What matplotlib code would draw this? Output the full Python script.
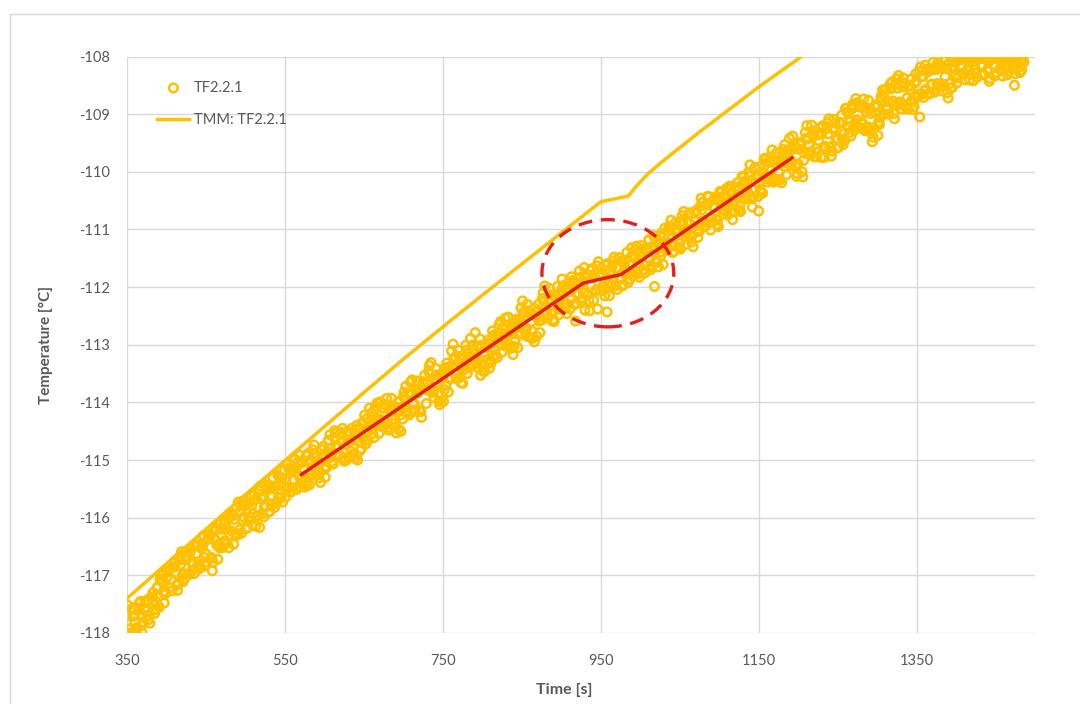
import numpy as np
import matplotlib
matplotlib.use('Agg')
import matplotlib.pyplot as plt
from matplotlib.patches import Ellipse, Rectangle

plt.rcParams['font.family'] = ['Lato', 'DejaVu Sans']
plt.rcParams['axes.unicode_minus'] = False

# measured thermocouple TF2.2.1, logged every second; stored as four
# interleaved channels (t = 350+4k, 351+4k, 352+4k, 353+4k)
t_meas_a = np.arange(350, 1487, 4)
T_meas_a = [
    -117.70, -117.93, -117.71, -117.91, -117.57, -117.70, -117.46, -117.69, -117.48, -117.45,
    -117.37, -117.11, -117.33, -116.93, -117.06, -116.85, -117.26, -116.81, -116.97, -116.67,
    -116.60, -116.81, -116.62, -116.85, -116.49, -116.63, -116.33, -116.92, -116.39, -116.48,
    -116.20, -116.40, -116.02, -116.23, -116.03, -116.30, -115.89, -115.99, -115.77, -115.99,
    -115.93, -115.67, -116.17, -115.63, -115.81, -115.47, -115.64, -115.45, -115.65, -115.31,
    -115.33, -115.50, -115.18, -115.35, -115.04, -115.33, -115.15, -115.43, -115.00, -115.11,
    -115.02, -115.21, -114.95, -115.11, -114.80, -114.87, -114.61, -114.77, -114.69, -114.99,
    -114.67, -114.85, -114.65, -115.00, -114.46, -114.62, -114.28, -114.42, -114.29, -114.39,
    -114.29, -114.10, -114.35, -114.12, -114.30, -114.08, -114.47, -114.08, -114.16, -113.84,
    -113.84, -114.03, -113.84, -114.16, -113.69, -113.68, -113.51, -113.81, -113.66, -114.04,
    -113.58, -113.70, -113.38, -113.39, -113.21, -113.58, -113.35, -113.39, -113.15, -113.34,
    -113.21, -113.02, -113.53, -113.14, -113.26, -112.96, -113.21, -112.82, -112.88, -112.72,
    -112.71, -113.00, -112.81, -112.90, -112.55, -112.61, -112.42, -112.86, -112.60, -112.95,
    -112.42, -112.51, -112.25, -112.42, -112.23, -112.56, -112.19, -112.22, -112.01, -112.28,
    -112.02, -111.98, -112.59, -112.12, -111.91, -112.40, -111.81, -111.98, -111.80, -112.38,
    -111.78, -111.97, -112.43, -111.72, -111.85, -111.66, -111.83, -111.57, -111.78, -111.59,
    -111.75, -111.49, -111.62, -111.39, -111.62, -111.38, -111.62, -111.99, -111.25, -111.46,
    -111.12, -111.23, -111.02, -111.24, -111.06, -111.24, -110.88, -111.06, -110.89, -111.10,
    -110.85, -110.93, -110.66, -110.94, -110.55, -110.79, -110.62, -110.84, -110.49, -110.54,
    -110.53, -110.37, -110.58, -110.41, -110.59, -110.21, -110.28, -110.02, -110.61, -110.18,
    -110.68, -110.01, -110.10, -109.83, -109.98, -109.80, -110.13, -109.79, -109.83, -109.65,
    -109.79, -109.61, -110.08, -109.61, -110.09, -109.42, -109.53, -109.35, -109.60, -109.46,
    -109.34, -109.56, -109.34, -109.73, -109.24, -109.42, -109.15, -109.34, -108.96, -109.13,
    -108.87, -109.10, -108.88, -109.17, -108.97, -109.28, -109.48, -108.98, -109.14, -108.75,
    -108.57, -108.78, -108.56, -109.08, -108.55, -108.80, -108.52, -108.72, -108.57, -108.77,
    -108.43, -109.05, -108.35, -108.57, -108.22, -108.48, -108.23, -108.52, -108.20, -108.35,
    -108.72, -108.18, -108.35, -108.05, -108.15, -108.02, -108.24, -108.05, -108.42, -108.04,
    -108.02, -108.16, -108.03, -108.43, -108.01, -108.18, -108.02, -108.13, -108.01, -108.20,
    -108.05, -108.50, -108.03, -108.08, -108.10,
]
t_meas_b = np.arange(352, 1485, 4)
T_meas_b = [
    -117.93, -117.59, -117.81, -117.61, -117.87, -117.59, -117.69, -117.39, -117.60, -117.22,
    -117.06, -117.28, -117.04, -117.22, -116.86, -116.97, -116.69, -117.00, -116.73, -116.99,
    -116.78, -116.49, -116.81, -116.53, -116.69, -116.38, -116.71, -116.35, -116.48, -116.19,
    -116.44, -116.18, -116.30, -115.96, -116.28, -115.91, -116.04, -115.79, -116.05, -115.79,
    -115.69, -115.97, -115.67, -115.81, -115.47, -115.76, -115.50, -115.72, -115.33, -115.46,
    -115.48, -115.16, -115.48, -115.15, -115.28, -115.05, -115.33, -115.03, -115.18, -114.89,
    -115.25, -114.94, -115.16, -114.86, -114.95, -114.61, -114.76, -114.56, -114.96, -114.73,
    -114.68, -114.90, -114.54, -114.68, -114.35, -114.66, -114.34, -114.46, -114.12, -114.32,
    -114.36, -114.10, -114.30, -114.07, -114.37, -114.14, -114.22, -113.90, -114.16, -113.87,
    -114.02, -113.79, -114.14, -113.76, -113.76, -113.46, -113.79, -113.61, -113.84, -113.53,
    -113.78, -113.40, -113.57, -113.24, -113.49, -113.24, -113.44, -113.10, -113.37, -113.09,
    -113.27, -113.06, -113.32, -113.01, -113.31, -112.98, -113.09, -112.81, -113.01, -112.66,
    -112.98, -112.76, -113.03, -112.57, -112.70, -112.44, -112.72, -112.45, -112.77, -112.51,
    -112.59, -112.20, -112.47, -112.22, -112.45, -112.14, -112.38, -112.06, -112.30, -112.02,
    -112.22, -111.92, -112.10, -111.83, -112.10, -111.84, -112.41, -111.79, -112.05, -111.79,
    -112.00, -111.72, -111.93, -111.65, -111.97, -111.67, -111.86, -111.62, -111.72, -111.48,
    -111.47, -111.73, -111.46, -111.70, -111.34, -111.52, -111.29, -111.53, -111.27, -111.39,
    -111.29, -111.00, -111.28, -111.02, -111.31, -110.86, -111.04, -110.86, -111.12, -110.82,
    -111.02, -110.60, -110.85, -110.57, -110.81, -110.60, -110.83, -110.44, -110.65, -110.39,
    -110.59, -110.37, -110.68, -110.30, -110.46, -110.17, -110.35, -110.07, -110.31, -110.07,
    -110.31, -109.93, -110.10, -109.80, -110.12, -109.81, -110.02, -109.69, -109.91, -109.62,
    -109.84, -109.57, -109.86, -109.50, -109.68, -109.43, -109.65, -109.38, -109.66, -109.33,
    -109.57, -109.25, -109.57, -109.25, -109.45, -109.14, -109.43, -108.90, -109.22, -108.91,
    -109.15, -108.82, -109.13, -108.89, -109.22, -108.99, -109.23, -108.87, -109.06, -108.66,
    -108.88, -108.55, -108.77, -108.47, -108.79, -108.53, -108.84, -108.51, -108.76, -108.46,
    -108.66, -108.35, -108.59, -108.27, -108.49, -108.20, -108.47, -108.19, -108.48, -108.21,
    -108.47, -108.18, -108.32, -108.04, -108.20, -108.04, -108.21, -108.05, -108.23, -108.02,
    -108.18, -108.02, -108.22, -108.01, -108.16, -108.02, -108.20, -108.01, -108.17, -108.02,
    -108.14, -108.02, -108.18, -108.04,
]
t_meas_c = np.arange(351, 1484, 4)
T_meas_c = [
    -117.52, -118.00, -117.58, -118.03, -117.45, -117.81, -117.43, -117.83, -117.30, -117.59,
    -117.55, -116.95, -117.29, -116.87, -117.27, -116.75, -117.15, -116.59, -117.05, -116.61,
    -116.53, -116.97, -116.47, -116.87, -116.31, -116.77, -116.33, -116.77, -116.19, -116.52,
    -116.52, -116.08, -116.52, -115.93, -116.27, -115.73, -116.27, -115.77, -116.17, -115.61,
    -115.61, -115.97, -115.45, -115.99, -115.49, -115.89, -115.31, -115.75, -115.29, -115.73,
    -115.64, -115.14, -115.54, -114.99, -115.46, -115.03, -115.47, -114.89, -115.26, -114.74,
    -114.94, -115.39, -114.76, -115.12, -114.56, -115.07, -114.53, -114.91, -114.45, -115.01,
    -114.95, -114.45, -114.97, -114.45, -114.80, -114.22, -114.65, -114.19, -114.61, -114.01,
    -113.99, -114.42, -113.93, -114.44, -114.06, -114.53, -113.98, -114.29, -113.72, -114.22,
    -113.61, -114.13, -113.76, -114.26, -113.53, -113.79, -113.31, -113.92, -113.52, -113.98,
    -113.98, -113.32, -113.59, -112.99, -113.59, -113.20, -113.67, -113.01, -113.40, -113.01,
    -112.79, -113.40, -113.01, -113.46, -112.92, -113.32, -112.83, -113.22, -112.60, -112.94,
    -113.03, -112.67, -113.17, -112.56, -112.83, -112.24, -112.82, -112.41, -112.89, -112.37,
    -112.30, -112.57, -111.98, -112.54, -112.13, -112.60, -111.99, -112.38, -111.97, -112.46,
    -112.38, -111.88, -112.28, -111.72, -112.19, -111.77, -112.23, -111.68, -112.06, -111.56,
    -111.68, -112.15, -111.59, -111.98, -111.48, -112.04, -111.55, -111.96, -111.40, -111.86,
    -111.81, -111.29, -111.83, -111.34, -111.74, -111.18, -111.64, -111.21, -111.65, -111.07,
    -110.98, -111.33, -110.84, -111.38, -111.00, -111.34, -110.69, -111.12, -110.71, -111.30,
    -110.67, -111.03, -110.53, -110.94, -110.43, -110.87, -110.44, -110.95, -110.35, -110.68,
    -110.75, -110.25, -110.69, -110.19, -110.69, -110.09, -110.42, -109.88, -110.43, -110.06,
    -109.91, -110.37, -109.78, -110.13, -109.62, -110.16, -109.80, -110.19, -109.53, -109.85,
    -109.89, -109.51, -110.03, -109.49, -109.80, -109.20, -109.71, -109.29, -109.74, -109.24,
    -109.20, -109.58, -109.08, -109.64, -109.16, -109.58, -109.02, -109.46, -108.98, -109.38,
    -109.28, -108.80, -109.24, -108.74, -109.27, -108.90, -109.40, -108.84, -109.18, -108.58,
    -108.57, -109.00, -108.44, -108.82, -108.33, -108.91, -108.46, -108.91, -108.39, -108.87,
    -108.71, -108.18, -108.71, -108.22, -108.64, -108.10, -108.57, -108.14, -108.60, -108.06,
    -108.12, -108.54, -108.10, -108.37, -108.02, -108.40, -108.02, -108.31, -108.04, -108.36,
    -108.02, -108.32, -108.03, -108.38, -108.01, -108.28, -108.02, -108.34, -108.01, -108.26,
    -108.03, -108.30, -108.02, -108.24,
]
t_meas_d = np.arange(353, 1486, 4)
T_meas_d = [
    -118.05, -117.57, -117.95, -117.49, -117.99, -117.47, -117.77, -117.37, -117.66, -117.20,
    -117.00, -117.48, -116.94, -117.22, -116.78, -117.17, -116.73, -117.11, -116.59, -116.97,
    -116.91, -116.47, -116.89, -116.45, -116.83, -116.29, -116.69, -116.23, -116.72, -116.07,
    -116.04, -116.44, -115.98, -116.46, -115.82, -116.21, -115.71, -116.19, -115.75, -116.13,
    -116.15, -115.53, -115.93, -115.43, -115.91, -115.46, -115.82, -115.26, -115.65, -115.18,
    -115.08, -115.56, -115.12, -115.51, -114.92, -115.39, -114.93, -115.43, -114.82, -115.25,
    -115.31, -114.82, -115.30, -114.66, -115.03, -114.49, -114.94, -114.52, -115.02, -114.51,
    -114.52, -114.92, -114.40, -114.84, -114.37, -114.72, -114.10, -114.54, -114.06, -114.54,
    -114.42, -114.04, -114.48, -113.93, -114.43, -114.00, -114.50, -113.82, -114.18, -113.65,
    -114.16, -113.63, -114.16, -113.64, -114.02, -113.36, -113.83, -113.41, -113.98, -113.55,
    -113.40, -113.82, -113.11, -113.50, -113.09, -113.66, -113.20, -113.50, -112.89, -113.35,
    -113.31, -112.90, -113.46, -113.05, -113.41, -112.76, -113.17, -112.65, -113.13, -112.54,
    -112.52, -113.06, -112.61, -113.05, -112.36, -112.74, -112.30, -112.87, -112.49, -112.85,
    -112.79, -112.10, -112.47, -112.02, -112.59, -112.16, -112.48, -111.86, -112.36, -111.92,
    -111.82, -112.30, -111.86, -112.25, -111.66, -112.14, -111.71, -112.23, -111.63, -112.05,
    -112.06, -111.62, -112.15, -111.55, -111.97, -111.49, -111.98, -111.54, -111.92, -111.32,
    -111.37, -111.77, -111.28, -111.76, -111.32, -111.70, -111.11, -111.57, -111.11, -111.61,
    -111.37, -110.94, -111.40, -110.88, -111.31, -110.76, -111.26, -110.74, -111.22, -110.72,
    -111.14, -110.46, -110.87, -110.43, -111.01, -110.48, -110.91, -110.34, -110.73, -110.29,
    -110.25, -110.83, -110.26, -110.66, -110.08, -110.47, -110.01, -110.45, -109.93, -110.43,
    -110.35, -109.77, -110.18, -109.74, -110.18, -109.67, -110.14, -109.61, -110.05, -109.42,
    -109.38, -109.91, -109.52, -110.00, -109.32, -109.67, -109.19, -109.74, -109.36, -109.75,
    -109.75, -109.15, -109.57, -109.09, -109.59, -109.16, -109.53, -108.90, -109.32, -108.83,
    -108.73, -109.24, -108.85, -109.29, -108.76, -109.29, -108.87, -109.37, -108.70, -109.00,
    -108.92, -108.47, -108.99, -108.39, -108.83, -108.37, -108.90, -108.51, -108.92, -108.30,
    -108.26, -108.65, -108.15, -108.65, -108.23, -108.62, -108.11, -108.51, -108.08, -108.63,
    -108.55, -108.06, -108.46, -108.02, -108.30, -108.03, -108.41, -108.03, -108.29, -108.02,
    -108.30, -108.01, -108.26, -108.02, -108.34, -108.01, -108.24, -108.02, -108.32, -108.01,
    -108.22, -108.02, -108.28, -108.04,
]

# TMM model
t_tmm = [350, 400, 450, 500, 550, 600, 650, 700, 750, 800, 850, 900, 950,
         985, 995, 1010, 1030, 1075, 1100, 1150, 1230]
T_tmm = [-117.40, -116.80, -116.20, -115.60, -115.01, -114.42, -113.83, -113.25,
         -112.69, -112.14, -111.60, -111.06, -110.52, -110.42, -110.25, -110.03,
         -109.80, -109.31, -109.05, -108.53, -107.75]

# linear fits (red)
t_fit = [571, 928, 976, 1192]
T_fit = [-115.25, -111.93, -111.78, -109.76]

x_ticks = [350, 550, 750, 950, 1150, 1350]
y_ticks = [-118, -117, -116, -115, -114, -113, -112, -111, -110, -109, -108]

gold = '#FFC000'
red = '#E3201B'
grey_txt = '#595959'
grid_c = '#D9D9D9'

t_meas = np.concatenate([t_meas_a, t_meas_c, t_meas_b, t_meas_d])
T_meas = np.concatenate([T_meas_a, T_meas_c, T_meas_b, T_meas_d])
order = np.argsort(t_meas, kind='stable')
t_meas, T_meas = t_meas[order], T_meas[order]

fig = plt.figure(figsize=(10.8, 7.04), dpi=100)
ax = fig.add_axes([127 / 1080, 1 - 633 / 704, 908 / 1080, 576.5 / 704])

fig.patches.append(Rectangle((10 / 1080, -0.1), 1.2, 1.1 - 14 / 704,
                             transform=fig.transFigure, fill=False,
                             edgecolor=grid_c, lw=1))

ax.scatter(t_meas, T_meas, s=38, facecolors='none', edgecolors=gold,
           linewidths=1.8, label='TF2.2.1', zorder=3)
ax.plot(t_tmm, T_tmm, color=gold, lw=2.5, label='TMM: TF2.2.1', zorder=4)
ax.plot(t_fit, T_fit, color=red, lw=2.5, zorder=5)
ax.add_patch(Ellipse((959, -111.76), 167, 1.86, fill=False, edgecolor=red,
                     lw=2.4, linestyle=(0, (4.2, 2.6)), zorder=6))

ax.set_xlim(350, 1500)
ax.set_ylim(-118, -108)
ax.set_xticks(x_ticks)
ax.set_yticks(y_ticks)
ax.grid(True, color=grid_c, lw=1)
ax.set_axisbelow(True)
for s in ax.spines.values():
    s.set_visible(False)
ax.tick_params(length=0, labelsize=10.5, colors=grey_txt)
ax.tick_params(axis='x', pad=15)
ax.tick_params(axis='y', pad=12)

ax.set_xlabel('Time [s]', fontsize=11.5, fontweight='bold', color=grey_txt)
ax.set_ylabel('Temperature [°C]', fontsize=11, fontweight='bold', color=grey_txt)
ax.xaxis.set_label_coords(0.482, -0.0867)
ax.yaxis.set_label_coords(-0.0815, 0.5)

leg = ax.legend(loc='upper left', bbox_to_anchor=(0.027, 0.968), frameon=False,
                fontsize=10.5, labelspacing=1.25, handlelength=2.2,
                handletextpad=0.3, borderaxespad=0)
for txt in leg.get_texts():
    txt.set_color(grey_txt)

fig.savefig('out.png', dpi=100)
